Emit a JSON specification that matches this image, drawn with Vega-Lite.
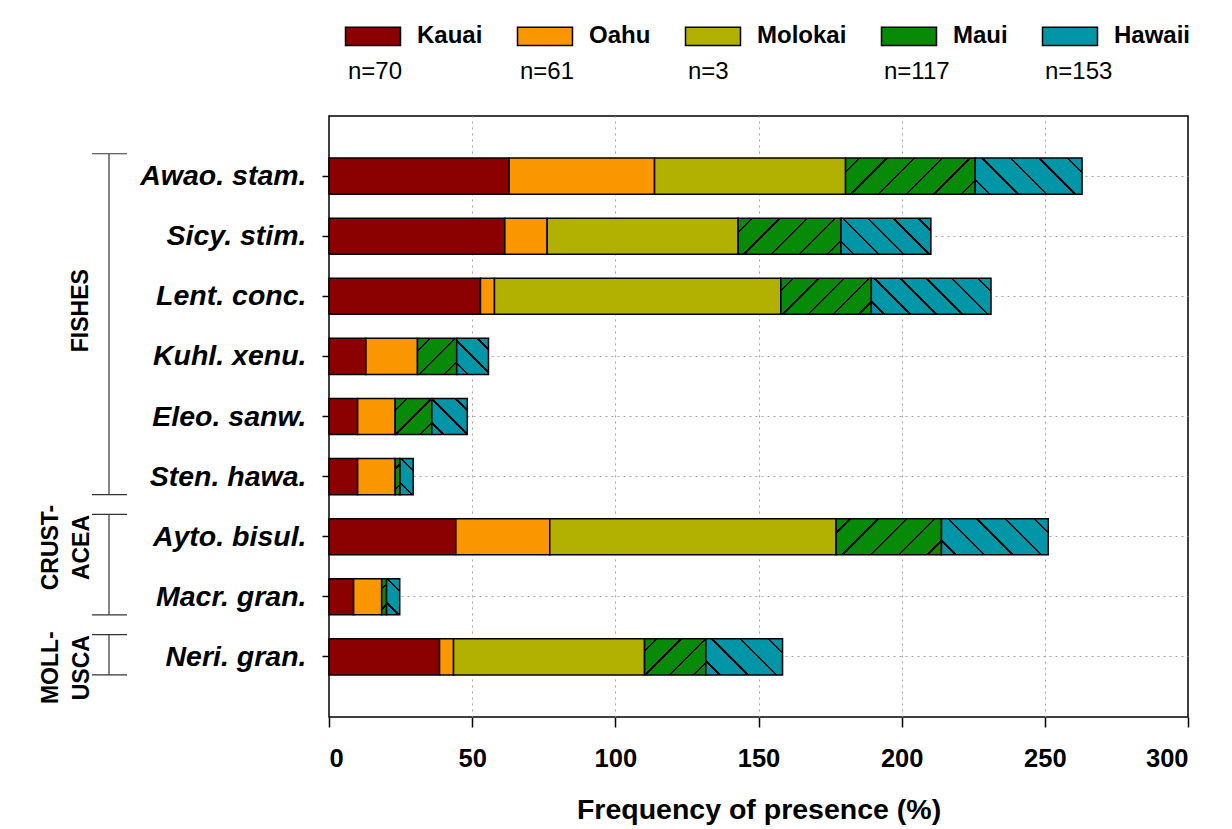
{
  "$schema": "https://vega.github.io/schema/vega-lite/v6.json",
  "background": "white",
  "padding": {"left": 30, "top": 24, "right": 0, "bottom": 0},
  "autosize": {"type": "pad"},
  "config": {
    "font": "Liberation Sans",
    "view": {"stroke": null}
  },
  "datasets": {
    "freq": [
      {"species": "Awao. stam.", "island": "Kauai", "pct": 62.9},
      {"species": "Awao. stam.", "island": "Oahu", "pct": 50.8},
      {"species": "Awao. stam.", "island": "Molokai", "pct": 66.7},
      {"species": "Awao. stam.", "island": "Maui", "pct": 45.3},
      {"species": "Awao. stam.", "island": "Hawaii", "pct": 37.3},
      {"species": "Sicy. stim.", "island": "Kauai", "pct": 61.4},
      {"species": "Sicy. stim.", "island": "Oahu", "pct": 14.8},
      {"species": "Sicy. stim.", "island": "Molokai", "pct": 66.7},
      {"species": "Sicy. stim.", "island": "Maui", "pct": 35.9},
      {"species": "Sicy. stim.", "island": "Hawaii", "pct": 31.4},
      {"species": "Lent. conc.", "island": "Kauai", "pct": 52.9},
      {"species": "Lent. conc.", "island": "Oahu", "pct": 4.9},
      {"species": "Lent. conc.", "island": "Molokai", "pct": 100},
      {"species": "Lent. conc.", "island": "Maui", "pct": 31.6},
      {"species": "Lent. conc.", "island": "Hawaii", "pct": 41.8},
      {"species": "Kuhl. xenu.", "island": "Kauai", "pct": 12.9},
      {"species": "Kuhl. xenu.", "island": "Oahu", "pct": 18.0},
      {"species": "Kuhl. xenu.", "island": "Maui", "pct": 13.7},
      {"species": "Kuhl. xenu.", "island": "Hawaii", "pct": 11.1},
      {"species": "Eleo. sanw.", "island": "Kauai", "pct": 10.0},
      {"species": "Eleo. sanw.", "island": "Oahu", "pct": 13.1},
      {"species": "Eleo. sanw.", "island": "Maui", "pct": 12.8},
      {"species": "Eleo. sanw.", "island": "Hawaii", "pct": 12.4},
      {"species": "Sten. hawa.", "island": "Kauai", "pct": 10.0},
      {"species": "Sten. hawa.", "island": "Oahu", "pct": 13.1},
      {"species": "Sten. hawa.", "island": "Maui", "pct": 1.7},
      {"species": "Sten. hawa.", "island": "Hawaii", "pct": 4.6},
      {"species": "Ayto. bisul.", "island": "Kauai", "pct": 44.3},
      {"species": "Ayto. bisul.", "island": "Oahu", "pct": 32.8},
      {"species": "Ayto. bisul.", "island": "Molokai", "pct": 100},
      {"species": "Ayto. bisul.", "island": "Maui", "pct": 36.8},
      {"species": "Ayto. bisul.", "island": "Hawaii", "pct": 37.3},
      {"species": "Macr. gran.", "island": "Kauai", "pct": 8.6},
      {"species": "Macr. gran.", "island": "Oahu", "pct": 9.8},
      {"species": "Macr. gran.", "island": "Maui", "pct": 1.7},
      {"species": "Macr. gran.", "island": "Hawaii", "pct": 4.6},
      {"species": "Neri. gran.", "island": "Kauai", "pct": 38.6},
      {"species": "Neri. gran.", "island": "Oahu", "pct": 4.9},
      {"species": "Neri. gran.", "island": "Molokai", "pct": 66.7},
      {"species": "Neri. gran.", "island": "Maui", "pct": 21.4},
      {"species": "Neri. gran.", "island": "Hawaii", "pct": 26.8}
    ],
    "groups": [
      {"group": "FISHES", "label": "FISHES", "first": "Awao. stam.", "last": "Sten. hawa.", "label_at": "Lent. conc."},
      {"group": "CRUSTACEA", "label": "CRUST-\nACEA", "first": "Ayto. bisul.", "last": "Macr. gran.", "label_at": "Ayto. bisul."},
      {"group": "MOLLUSCA", "label": "MOLL-\nUSCA", "first": "Neri. gran.", "last": "Neri. gran.", "label_at": "Neri. gran."}
    ]
  },
  "spacing": 189,
  "bounds": "flush",
  "resolve": {"scale": {"y": "shared"}},
  "hconcat": [
    {
      "width": 110,
      "height": 601,
      "view": {"fill": "white", "stroke": null},
      "data": {"name": "groups"},
      "layer": [
        {
          "mark": {"type": "rule", "stroke": "#333333", "strokeWidth": 1.2},
          "encoding": {
            "x": {"value": 79},
            "y": {
              "field": "first", "type": "nominal", "bandPosition": -0.12,
              "scale": {"domain": ["Awao. stam.", "Sicy. stim.", "Lent. conc.", "Kuhl. xenu.", "Eleo. sanw.", "Sten. hawa.", "Ayto. bisul.", "Macr. gran.", "Neri. gran."], "paddingInner": 0.4, "paddingOuter": 0.7},
              "axis": null
            },
            "y2": {"field": "last", "bandPosition": 1.0}
          }
        },
        {
          "mark": {"type": "rule", "stroke": "#333333", "strokeWidth": 1.2},
          "encoding": {
            "x": {"value": 62},
            "x2": {"value": 97},
            "y": {"field": "first", "type": "nominal", "bandPosition": -0.12, "axis": null}
          }
        },
        {
          "mark": {"type": "rule", "stroke": "#333333", "strokeWidth": 1.2},
          "encoding": {
            "x": {"value": 62},
            "x2": {"value": 97},
            "y": {"field": "last", "type": "nominal", "bandPosition": 1.0, "axis": null}
          }
        },
        {
          "transform": [{"filter": "datum.group === 'FISHES'"}],
          "mark": {"type": "text", "angle": 270, "align": "center", "baseline": "bottom", "fontWeight": "bold", "fontSize": 23, "lineBreak": "\n", "lineHeight": 31, "color": "black"},
          "encoding": {
            "x": {"value": 63},
            "y": {"field": "label_at", "type": "nominal", "bandPosition": 0.9, "axis": null},
            "text": {"field": "label"}
          }
        },
        {
          "transform": [{"filter": "datum.group !== 'FISHES'"}],
          "mark": {"type": "text", "angle": 270, "align": "center", "baseline": "bottom", "fontWeight": "bold", "fontSize": 23, "lineBreak": "\n", "lineHeight": 31, "color": "black"},
          "encoding": {
            "x": {"value": 33},
            "y": {"field": "label_at", "type": "nominal", "bandPosition": 0.8, "axis": null},
            "text": {"field": "label"}
          }
        }
      ]
    },
    {
      "width": 859,
      "height": 601,
      "view": {"stroke": "black", "strokeWidth": 1.5},
      "data": {"name": "freq"},
      "transform": [
        {"calculate": "indexof(['Kauai', 'Oahu', 'Molokai', 'Maui', 'Hawaii'], datum.island)", "as": "island_order"}
      ],
      "mark": {"type": "bar", "stroke": "black", "strokeWidth": 1.5},
      "encoding": {
        "y": {
          "field": "species", "type": "nominal",
          "scale": {"domain": ["Awao. stam.", "Sicy. stim.", "Lent. conc.", "Kuhl. xenu.", "Eleo. sanw.", "Sten. hawa.", "Ayto. bisul.", "Macr. gran.", "Neri. gran."], "paddingInner": 0.4, "paddingOuter": 0.7},
          "axis": {
            "title": null, "domain": false,
            "ticks": true, "tickSize": 7, "tickColor": "black", "tickWidth": 1.5,
            "labelFontSize": 28.5, "labelFontWeight": "bold", "labelFontStyle": "italic", "labelColor": "black", "labelPadding": 16, "labelLimit": 400,
            "grid": true, "gridColor": "#a0a0a0", "gridDash": [2, 4], "gridWidth": 1
          }
        },
        "x": {
          "field": "pct", "type": "quantitative", "stack": "zero",
          "scale": {"domain": [0, 300], "nice": false},
          "axis": {
            "values": [0, 50, 100, 150, 200, 250, 300],
            "title": "Frequency of presence (%)", "titleFontSize": 28.5, "titleFontWeight": "bold", "titleColor": "black", "titlePadding": 24,
            "domain": false,
            "ticks": true, "tickSize": 10, "tickColor": "black", "tickWidth": 1.5,
            "labelFontSize": 25.5, "labelFontWeight": "bold", "labelColor": "black", "labelPadding": 19,
            "grid": true, "gridColor": "#a0a0a0", "gridDash": [2, 4], "gridWidth": 1,
            "gridOpacity": {"condition": {"test": "datum.value === 0 || datum.value === 300", "value": 0}, "value": 1}
          }
        },
        "fill": {
          "condition": [
            {"test": "datum.island === 'Maui' && datum.species === 'Awao. stam.'", "value": {"gradient": "linear", "x1": 0, "y1": 0, "x2": 1.1863, "y2": 0.3298, "stops": [{"offset": 0, "color": "#078a07"}, {"offset": 0.0761, "color": "#078a07"}, {"offset": 0.0761, "color": "black"}, {"offset": 0.0905, "color": "black"}, {"offset": 0.0905, "color": "#078a07"}, {"offset": 0.2428, "color": "#078a07"}, {"offset": 0.2428, "color": "black"}, {"offset": 0.2572, "color": "black"}, {"offset": 0.2572, "color": "#078a07"}, {"offset": 0.4095, "color": "#078a07"}, {"offset": 0.4095, "color": "black"}, {"offset": 0.4239, "color": "black"}, {"offset": 0.4239, "color": "#078a07"}, {"offset": 0.5761, "color": "#078a07"}, {"offset": 0.5761, "color": "black"}, {"offset": 0.5905, "color": "black"}, {"offset": 0.5905, "color": "#078a07"}, {"offset": 0.7428, "color": "#078a07"}, {"offset": 0.7428, "color": "black"}, {"offset": 0.7572, "color": "black"}, {"offset": 0.7572, "color": "#078a07"}, {"offset": 0.9095, "color": "#078a07"}, {"offset": 0.9095, "color": "black"}, {"offset": 0.9239, "color": "black"}, {"offset": 0.9239, "color": "#078a07"}, {"offset": 1, "color": "#078a07"}]}},
            {"test": "datum.island === 'Maui' && datum.species === 'Sicy. stim.'", "value": {"gradient": "linear", "x1": 0, "y1": 0, "x2": 1.2028, "y2": 0.422, "stops": [{"offset": 0, "color": "#078a07"}, {"offset": 0.0914, "color": "#078a07"}, {"offset": 0.0914, "color": "black"}, {"offset": 0.1086, "color": "black"}, {"offset": 0.1086, "color": "#078a07"}, {"offset": 0.2914, "color": "#078a07"}, {"offset": 0.2914, "color": "black"}, {"offset": 0.3086, "color": "black"}, {"offset": 0.3086, "color": "#078a07"}, {"offset": 0.4914, "color": "#078a07"}, {"offset": 0.4914, "color": "black"}, {"offset": 0.5086, "color": "black"}, {"offset": 0.5086, "color": "#078a07"}, {"offset": 0.6914, "color": "#078a07"}, {"offset": 0.6914, "color": "black"}, {"offset": 0.7086, "color": "black"}, {"offset": 0.7086, "color": "#078a07"}, {"offset": 0.8914, "color": "#078a07"}, {"offset": 0.8914, "color": "black"}, {"offset": 0.9086, "color": "black"}, {"offset": 0.9086, "color": "#078a07"}, {"offset": 1, "color": "#078a07"}]}},
            {"test": "datum.island === 'Maui' && datum.species === 'Lent. conc.'", "value": {"gradient": "linear", "x1": 0, "y1": 0, "x2": 1.2069, "y2": 0.481, "stops": [{"offset": 0, "color": "#078a07"}, {"offset": 0.0905, "color": "#078a07"}, {"offset": 0.0905, "color": "black"}, {"offset": 0.1095, "color": "black"}, {"offset": 0.1095, "color": "#078a07"}, {"offset": 0.2905, "color": "#078a07"}, {"offset": 0.2905, "color": "black"}, {"offset": 0.3095, "color": "black"}, {"offset": 0.3095, "color": "#078a07"}, {"offset": 0.4905, "color": "#078a07"}, {"offset": 0.4905, "color": "black"}, {"offset": 0.5095, "color": "black"}, {"offset": 0.5095, "color": "#078a07"}, {"offset": 0.6905, "color": "#078a07"}, {"offset": 0.6905, "color": "black"}, {"offset": 0.7095, "color": "black"}, {"offset": 0.7095, "color": "#078a07"}, {"offset": 0.8905, "color": "#078a07"}, {"offset": 0.8905, "color": "black"}, {"offset": 0.9095, "color": "black"}, {"offset": 0.9095, "color": "#078a07"}, {"offset": 1, "color": "#078a07"}]}},
            {"test": "datum.island === 'Maui' && datum.species === 'Kuhl. xenu.'", "value": {"gradient": "linear", "x1": 0, "y1": 0, "x2": 1.0403, "y2": 0.9562, "stops": [{"offset": 0, "color": "#078a07"}, {"offset": 0.1508, "color": "#078a07"}, {"offset": 0.1508, "color": "black"}, {"offset": 0.1826, "color": "black"}, {"offset": 0.1826, "color": "#078a07"}, {"offset": 0.4841, "color": "#078a07"}, {"offset": 0.4841, "color": "black"}, {"offset": 0.5159, "color": "black"}, {"offset": 0.5159, "color": "#078a07"}, {"offset": 0.8174, "color": "#078a07"}, {"offset": 0.8174, "color": "black"}, {"offset": 0.8492, "color": "black"}, {"offset": 0.8492, "color": "#078a07"}, {"offset": 1, "color": "#078a07"}]}},
            {"test": "datum.island === 'Maui' && datum.species === 'Eleo. sanw.'", "value": {"gradient": "linear", "x1": 0, "y1": 0, "x2": 1.0081, "y2": 0.9918, "stops": [{"offset": 0, "color": "#078a07"}, {"offset": 0.1502, "color": "#078a07"}, {"offset": 0.1502, "color": "black"}, {"offset": 0.1832, "color": "black"}, {"offset": 0.1832, "color": "#078a07"}, {"offset": 0.4835, "color": "#078a07"}, {"offset": 0.4835, "color": "black"}, {"offset": 0.5165, "color": "black"}, {"offset": 0.5165, "color": "#078a07"}, {"offset": 0.8168, "color": "#078a07"}, {"offset": 0.8168, "color": "black"}, {"offset": 0.8498, "color": "black"}, {"offset": 0.8498, "color": "#078a07"}, {"offset": 1, "color": "#078a07"}]}},
            {"test": "datum.island === 'Maui' && (datum.species === 'Sten. hawa.' || datum.species === 'Macr. gran.')", "value": {"gradient": "linear", "x1": 0, "y1": 0, "x2": 0.1505, "y2": 1.1148, "stops": [{"offset": 0, "color": "#078a07"}, {"offset": 0.2207, "color": "#078a07"}, {"offset": 0.2207, "color": "black"}, {"offset": 0.2793, "color": "black"}, {"offset": 0.2793, "color": "#078a07"}, {"offset": 0.7207, "color": "#078a07"}, {"offset": 0.7207, "color": "black"}, {"offset": 0.7793, "color": "black"}, {"offset": 0.7793, "color": "#078a07"}, {"offset": 1, "color": "#078a07"}]}},
            {"test": "datum.island === 'Maui' && datum.species === 'Ayto. bisul.'", "value": {"gradient": "linear", "x1": 0, "y1": 0, "x2": 1.2015, "y2": 0.4112, "stops": [{"offset": 0, "color": "#078a07"}, {"offset": 0.0915, "color": "#078a07"}, {"offset": 0.0915, "color": "black"}, {"offset": 0.1085, "color": "black"}, {"offset": 0.1085, "color": "#078a07"}, {"offset": 0.2915, "color": "#078a07"}, {"offset": 0.2915, "color": "black"}, {"offset": 0.3085, "color": "black"}, {"offset": 0.3085, "color": "#078a07"}, {"offset": 0.4915, "color": "#078a07"}, {"offset": 0.4915, "color": "black"}, {"offset": 0.5085, "color": "black"}, {"offset": 0.5085, "color": "#078a07"}, {"offset": 0.6915, "color": "#078a07"}, {"offset": 0.6915, "color": "black"}, {"offset": 0.7085, "color": "black"}, {"offset": 0.7085, "color": "#078a07"}, {"offset": 0.8915, "color": "#078a07"}, {"offset": 0.8915, "color": "black"}, {"offset": 0.9085, "color": "black"}, {"offset": 0.9085, "color": "#078a07"}, {"offset": 1, "color": "#078a07"}]}},
            {"test": "datum.island === 'Maui' && datum.species === 'Neri. gran.'", "value": {"gradient": "linear", "x1": 0, "y1": 0, "x2": 1.1799, "y2": 0.6943, "stops": [{"offset": 0, "color": "#078a07"}, {"offset": 0.1127, "color": "#078a07"}, {"offset": 0.1127, "color": "black"}, {"offset": 0.1373, "color": "black"}, {"offset": 0.1373, "color": "#078a07"}, {"offset": 0.3627, "color": "#078a07"}, {"offset": 0.3627, "color": "black"}, {"offset": 0.3873, "color": "black"}, {"offset": 0.3873, "color": "#078a07"}, {"offset": 0.6127, "color": "#078a07"}, {"offset": 0.6127, "color": "black"}, {"offset": 0.6373, "color": "black"}, {"offset": 0.6373, "color": "#078a07"}, {"offset": 0.8627, "color": "#078a07"}, {"offset": 0.8627, "color": "black"}, {"offset": 0.8873, "color": "black"}, {"offset": 0.8873, "color": "#078a07"}, {"offset": 1, "color": "#078a07"}]}},
            {"test": "datum.island === 'Hawaii' && (datum.species === 'Awao. stam.' || datum.species === 'Ayto. bisul.')", "value": {"gradient": "linear", "x1": 0, "y1": 1, "x2": 1.2008, "y2": 0.5946, "stops": [{"offset": 0, "color": "#0096a8"}, {"offset": 0.0916, "color": "#0096a8"}, {"offset": 0.0916, "color": "black"}, {"offset": 0.1084, "color": "black"}, {"offset": 0.1084, "color": "#0096a8"}, {"offset": 0.2916, "color": "#0096a8"}, {"offset": 0.2916, "color": "black"}, {"offset": 0.3084, "color": "black"}, {"offset": 0.3084, "color": "#0096a8"}, {"offset": 0.4916, "color": "#0096a8"}, {"offset": 0.4916, "color": "black"}, {"offset": 0.5084, "color": "black"}, {"offset": 0.5084, "color": "#0096a8"}, {"offset": 0.6916, "color": "#0096a8"}, {"offset": 0.6916, "color": "black"}, {"offset": 0.7084, "color": "black"}, {"offset": 0.7084, "color": "#0096a8"}, {"offset": 0.8916, "color": "#0096a8"}, {"offset": 0.8916, "color": "black"}, {"offset": 0.9084, "color": "black"}, {"offset": 0.9084, "color": "#0096a8"}, {"offset": 1, "color": "#0096a8"}]}},
            {"test": "datum.island === 'Hawaii' && datum.species === 'Sicy. stim.'", "value": {"gradient": "linear", "x1": 0, "y1": 1, "x2": 1.2069, "y2": 0.5159, "stops": [{"offset": 0, "color": "#0096a8"}, {"offset": 0.0905, "color": "#0096a8"}, {"offset": 0.0905, "color": "black"}, {"offset": 0.1095, "color": "black"}, {"offset": 0.1095, "color": "#0096a8"}, {"offset": 0.2905, "color": "#0096a8"}, {"offset": 0.2905, "color": "black"}, {"offset": 0.3095, "color": "black"}, {"offset": 0.3095, "color": "#0096a8"}, {"offset": 0.4905, "color": "#0096a8"}, {"offset": 0.4905, "color": "black"}, {"offset": 0.5095, "color": "black"}, {"offset": 0.5095, "color": "#0096a8"}, {"offset": 0.6905, "color": "#0096a8"}, {"offset": 0.6905, "color": "black"}, {"offset": 0.7095, "color": "black"}, {"offset": 0.7095, "color": "#0096a8"}, {"offset": 0.8905, "color": "#0096a8"}, {"offset": 0.8905, "color": "black"}, {"offset": 0.9095, "color": "black"}, {"offset": 0.9095, "color": "#0096a8"}, {"offset": 1, "color": "#0096a8"}]}},
            {"test": "datum.island === 'Hawaii' && datum.species === 'Lent. conc.'", "value": {"gradient": "linear", "x1": 0, "y1": 1, "x2": 1.193, "y2": 0.6406, "stops": [{"offset": 0, "color": "#0096a8"}, {"offset": 0.0756, "color": "#0096a8"}, {"offset": 0.0756, "color": "black"}, {"offset": 0.091, "color": "black"}, {"offset": 0.091, "color": "#0096a8"}, {"offset": 0.2423, "color": "#0096a8"}, {"offset": 0.2423, "color": "black"}, {"offset": 0.2577, "color": "black"}, {"offset": 0.2577, "color": "#0096a8"}, {"offset": 0.409, "color": "#0096a8"}, {"offset": 0.409, "color": "black"}, {"offset": 0.4244, "color": "black"}, {"offset": 0.4244, "color": "#0096a8"}, {"offset": 0.5756, "color": "#0096a8"}, {"offset": 0.5756, "color": "black"}, {"offset": 0.591, "color": "black"}, {"offset": 0.591, "color": "#0096a8"}, {"offset": 0.7423, "color": "#0096a8"}, {"offset": 0.7423, "color": "black"}, {"offset": 0.7577, "color": "black"}, {"offset": 0.7577, "color": "#0096a8"}, {"offset": 0.909, "color": "#0096a8"}, {"offset": 0.909, "color": "black"}, {"offset": 0.9244, "color": "black"}, {"offset": 0.9244, "color": "#0096a8"}, {"offset": 1, "color": "#0096a8"}]}},
            {"test": "datum.island === 'Hawaii' && datum.species === 'Kuhl. xenu.'", "value": {"gradient": "linear", "x1": 0, "y1": 1, "x2": 0.9332, "y2": -0.0589, "stops": [{"offset": 0, "color": "#0096a8"}, {"offset": 0.149, "color": "#0096a8"}, {"offset": 0.149, "color": "black"}, {"offset": 0.1844, "color": "black"}, {"offset": 0.1844, "color": "#0096a8"}, {"offset": 0.4823, "color": "#0096a8"}, {"offset": 0.4823, "color": "black"}, {"offset": 0.5177, "color": "black"}, {"offset": 0.5177, "color": "#0096a8"}, {"offset": 0.8156, "color": "#0096a8"}, {"offset": 0.8156, "color": "black"}, {"offset": 0.851, "color": "black"}, {"offset": 0.851, "color": "#0096a8"}, {"offset": 1, "color": "#0096a8"}]}},
            {"test": "datum.island === 'Hawaii' && datum.species === 'Eleo. sanw.'", "value": {"gradient": "linear", "x1": 0, "y1": 1, "x2": 0.9922, "y2": -0.0076, "stops": [{"offset": 0, "color": "#0096a8"}, {"offset": 0.1499, "color": "#0096a8"}, {"offset": 0.1499, "color": "black"}, {"offset": 0.1835, "color": "black"}, {"offset": 0.1835, "color": "#0096a8"}, {"offset": 0.4832, "color": "#0096a8"}, {"offset": 0.4832, "color": "black"}, {"offset": 0.5168, "color": "black"}, {"offset": 0.5168, "color": "#0096a8"}, {"offset": 0.8165, "color": "#0096a8"}, {"offset": 0.8165, "color": "black"}, {"offset": 0.8501, "color": "black"}, {"offset": 0.8501, "color": "#0096a8"}, {"offset": 1, "color": "#0096a8"}]}},
            {"test": "datum.island === 'Hawaii' && (datum.species === 'Sten. hawa.' || datum.species === 'Macr. gran.')", "value": {"gradient": "linear", "x1": 0, "y1": 1, "x2": 0.44, "y2": -0.2046, "stops": [{"offset": 0, "color": "#0096a8"}, {"offset": 0.2256, "color": "#0096a8"}, {"offset": 0.2256, "color": "black"}, {"offset": 0.2744, "color": "black"}, {"offset": 0.2744, "color": "#0096a8"}, {"offset": 0.7256, "color": "#0096a8"}, {"offset": 0.7256, "color": "black"}, {"offset": 0.7744, "color": "black"}, {"offset": 0.7744, "color": "#0096a8"}, {"offset": 1, "color": "#0096a8"}]}},
            {"test": "datum.island === 'Hawaii' && datum.species === 'Neri. gran.'", "value": {"gradient": "linear", "x1": 0, "y1": 1, "x2": 1.2041, "y2": 0.4342, "stops": [{"offset": 0, "color": "#0096a8"}, {"offset": 0.1144, "color": "#0096a8"}, {"offset": 0.1144, "color": "black"}, {"offset": 0.1356, "color": "black"}, {"offset": 0.1356, "color": "#0096a8"}, {"offset": 0.3644, "color": "#0096a8"}, {"offset": 0.3644, "color": "black"}, {"offset": 0.3856, "color": "black"}, {"offset": 0.3856, "color": "#0096a8"}, {"offset": 0.6144, "color": "#0096a8"}, {"offset": 0.6144, "color": "black"}, {"offset": 0.6356, "color": "black"}, {"offset": 0.6356, "color": "#0096a8"}, {"offset": 0.8644, "color": "#0096a8"}, {"offset": 0.8644, "color": "black"}, {"offset": 0.8856, "color": "black"}, {"offset": 0.8856, "color": "#0096a8"}, {"offset": 1, "color": "#0096a8"}]}}
          ],
          "field": "island", "type": "nominal",
          "scale": {
            "domain": ["Kauai", "Oahu", "Molokai", "Maui", "Hawaii", "n=70", "n=61", "n=3", "n=117", "n=153"],
            "range": ["#8b0000", "#fa9600", "#b2b000", "#078a07", "#0096a8", "transparent", "transparent", "transparent", "transparent", "transparent"]
          },
          "legend": {
            "title": null,
            "orient": "none", "legendX": 331, "legendY": -92,
            "direction": "horizontal", "columns": 5, "gridAlign": "each",
            "columnPadding": 31, "rowPadding": 11,
            "symbolType": "M-3,-1H3V1H-3Z", "symbolSize": 336,
            "symbolStrokeColor": "black", "symbolStrokeWidth": 1.5, "symbolOpacity": 1,
            "labelFontSize": 24, "labelFontWeight": "bold", "labelColor": "black", "labelOffset": 32, "labelLimit": 300,
            "encode": {
              "symbols": {"update": {
                "strokeOpacity": {"signal": "indexof(datum.value, 'n=') === 0 ? 0 : 1"}
              }},
              "labels": {"update": {
                "fontWeight": {"signal": "indexof(datum.value, 'n=') === 0 ? 'normal' : 'bold'"},
                "dx": {"signal": "indexof(datum.value, 'n=') === 0 ? -69 : 0"}
              }}
            }
          }
        },
        "order": {"field": "island_order", "type": "quantitative"}
      }
    }
  ]
}
